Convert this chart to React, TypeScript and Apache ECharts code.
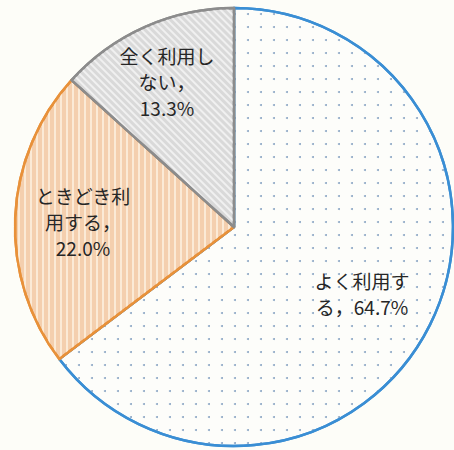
import React, { useEffect, useRef } from "react";
import * as echarts from "echarts";

const categories = ["よく利用する", "ときどき利用する", "全く利用しない"];
const values = [64.7, 22.0, 13.3];
const labelLines = [
  ["よく利用す", "る，64.7%"],
  ["ときどき利", "用する，", "22.0%"],
  ["全く利用し", "ない，", "13.3%"],
];
const labelPos = [
  [362, 293],
  [83, 221],
  [167, 81],
];

export default function App() {
  const ref = useRef<HTMLDivElement>(null);
  useEffect(() => {
    if (!ref.current) return;
    const chart = echarts.init(ref.current, null, { renderer: "svg" });
    const styles = [
      {
        color: "#fdfdfa",
        borderColor: "#3a8ed4",
        borderWidth: 2.5,
        decal: {
          symbol: "circle",
          symbolSize: 1,
          color: "#8ea8c6",
          backgroundColor: "#fdfdfa",
          dashArrayX: [2, 11],
          dashArrayY: [2, 11],
        },
      },
      {
        color: "#f4cfae",
        borderColor: "#e8913a",
        borderWidth: 2.5,
        decal: {
          symbol: "rect",
          symbolSize: 1,
          color: "#fbead6",
          backgroundColor: "#f3c9a5",
          dashArrayX: [2, 4],
          dashArrayY: [1, 0],
        },
      },
      {
        color: "#d9d9d9",
        borderColor: "#8c8c8c",
        borderWidth: 2.5,
        decal: {
          symbol: "rect",
          symbolSize: 1,
          color: "#f0f0f0",
          backgroundColor: "#bdbdbd",
          dashArrayX: [1, 0],
          dashArrayY: [2, 3],
          rotation: Math.PI / 4,
        },
      },
    ];
    chart.setOption({
      animation: false,
      backgroundColor: "#fdfdf8",
      series: [
        {
          type: "pie",
          center: [234, 227],
          radius: 219,
          startAngle: 90,
          clockwise: true,
          silent: true,
          data: categories.map((name, i) => ({
            name,
            value: values[i],
            itemStyle: styles[i],
          })),
          label: {
            show: true,
            position: "inside",
            formatter: (p: any) => labelLines[p.dataIndex].join("\n"),
            fontFamily: "'Noto Sans CJK JP', sans-serif",
            fontSize: 19,
            lineHeight: 26,
            color: "#262626",
            align: "center",
          },
          labelLayout: (p: any) => ({
            x: labelPos[p.dataIndex][0],
            y: labelPos[p.dataIndex][1],
            align: "center",
            verticalAlign: "middle",
          }),
          labelLine: { show: false },
        },
      ],
    });
    return () => chart.dispose();
  }, []);
  return (
    <div
      ref={ref}
      style={{ position: "fixed", left: 0, top: 0, width: 454, height: 450 }}
    />
  );
}
